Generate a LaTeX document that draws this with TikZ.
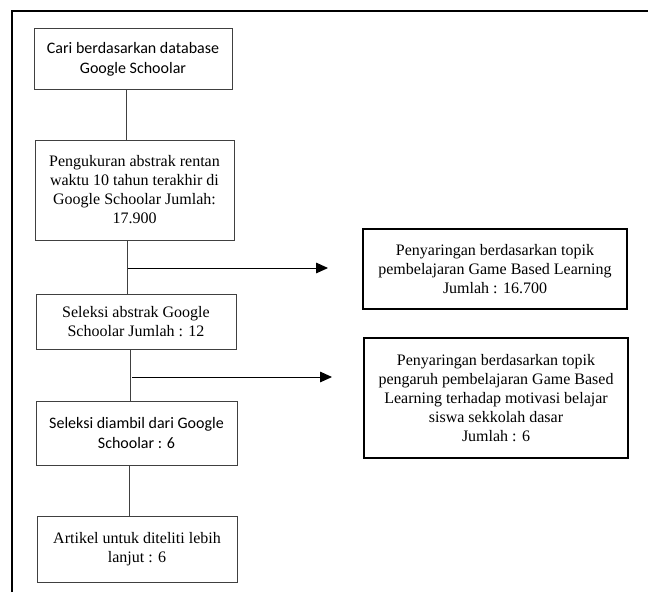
\documentclass[tikz,border=0pt]{standalone}
\usepackage{fontspec}
\setmainfont{Liberation Serif}
\newfontfamily\calibri{Carlito}
\usepackage{tikz}
\usetikzlibrary{arrows,arrows.meta}

\begin{document}
\begin{tikzpicture}[x=0.75pt,y=-0.75pt,
  box/.style={draw=black!75, line width=0.75pt, align=center, inner sep=0pt,
    font=\fontsize{12}{14.25}\selectfont},
  rbox/.style={box, draw=black, line width=1.5pt, minimum width=198pt},
  link/.style={draw=black!75, line width=0.75pt},
  arr/.style={link, draw=black, -{Triangle[length=9pt,width=8pt]}}]
 	\useasboundingbox (0,0) rectangle (648,592);
 	%frame
 	\draw[line width=1.5pt] (12,592) -- (12,11) -- (648,11);
 	%left column
 	\node[box, minimum width=148.5pt, minimum height=45pt, font=\calibri\fontsize{12}{15}\selectfont] (cari) at (133,59) {Cari berdasarkan database\\Google Schoolar};
 	\node[box, minimum width=149.25pt, minimum height=75pt] (ukur) at (134.5,190) {Pengukuran abstrak rentan\\waktu 10 tahun terakhir di\\Google Schoolar Jumlah:\\17.900};
 	\node[box, minimum width=150pt, minimum height=41.25pt] (abstrak) at (136,321.5) {Seleksi abstrak Google\\Schoolar Jumlah : 12};
 	\node[box, minimum width=150.75pt, minimum height=48pt, font=\calibri\fontsize{12}{15.5}\selectfont] (ambil) at (136.5,433) {Seleksi diambil dari Google\\Schoolar : 6};
 	\node[box, minimum width=150pt, minimum height=49.5pt] (artikel) at (137,549) {Artikel untuk diteliti lebih\\lanjut : 6};
 	%right column
 	\node[rbox, minimum height=60pt] (topik) at (495,269) {Penyaringan berdasarkan topik\\pembelajaran Game Based Learning\\Jumlah : 16.700};
 	\node[rbox, minimum height=90pt] (motiv) at (496,398) {Penyaringan berdasarkan topik\\pengaruh pembelajaran Game Based\\Learning terhadap motivasi belajar\\siswa sekkolah dasar\\Jumlah : 6};
 	%lines
 	\draw[link] ([xshift=-5.25pt]cari.south) -- ([xshift=-5.25pt]cari.south |- ukur.north);
 	\draw[link] ([xshift=-4.9pt]ukur.south) -- ([xshift=-4.9pt]ukur.south |- abstrak.north);
 	\draw[link] ([xshift=-4.5pt]abstrak.south) -- ([xshift=-4.5pt]abstrak.south |- ambil.north);
 	\draw[link] ([xshift=-5.6pt]ambil.south) -- ([xshift=-5.6pt]ambil.south |- artikel.north);
 	%arrows
 	\coordinate (a1) at (128,268);
 	\coordinate (t1) at (328,268);
 	\draw[arr] (a1) -- (t1);
 	\coordinate (a2) at (132,377);
 	\coordinate (t2) at (332,377);
 	\draw[arr] (a2) -- (t2);
\end{tikzpicture}
\end{document}
